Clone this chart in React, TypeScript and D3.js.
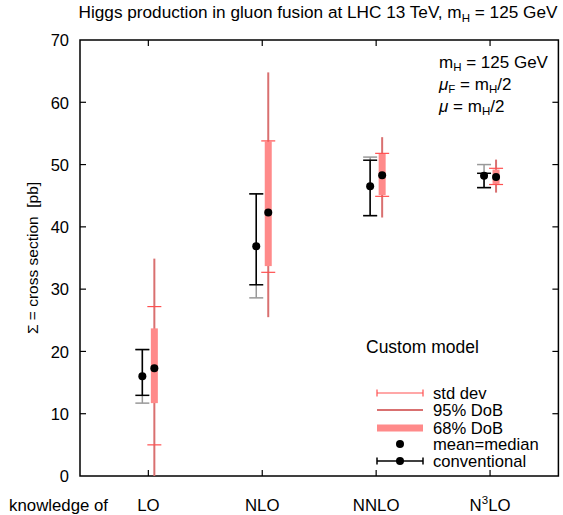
import React from "react";
import * as d3 from "d3";

const categories = ["LO", "NLO", "NNLO", "N3LO"];
// conventional (black) scale-variation error bars
const convMean = [16.0, 36.9, 46.5, 48.2];
const convLow = [12.95, 30.7, 41.8, 46.3];
const convHigh = [20.3, 45.3, 50.7, 48.6];
// gray extension of conventional bars
const grayLow = [11.7, 28.6, 41.8, 46.3];
const grayHigh = [20.3, 45.3, 51.2, 50.0];
// custom model (red)
const modelMean = [17.3, 42.3, 48.3, 48.0];
const sdLow = [5.0, 32.7, 44.9, 46.8];
const sdHigh = [27.2, 53.8, 51.8, 49.4];
const dob95Low = [0, 25.5, 41.5, 45.5];
const dob95High = [34.9, 64.8, 54.4, 50.8];
const dob68Low = [11.7, 33.7, 45.1, 46.9];
const dob68High = [23.7, 53.7, 51.8, 49.2];
const yTicks = [0, 10, 20, 30, 40, 50, 60, 70];

const W = 563, H = 515;
const M = { left: 80, right: 558.4, top: 40, bottom: 476 };
const FONT = "'Liberation Sans', Arial, Helvetica, sans-serif";

export default function App() {
  const x = d3.scaleLinear().domain([0.4, 4.6]).range([M.left, M.right]);
  const y = d3.scaleLinear().domain([0, 70]).range([M.bottom, M.top]);
  const cx = (i: number) => x(i + 1);
  const off = 6;
  const cap = 7;
  const tick = 6;
  const RED_SD = "#ff5050";
  const RED_95 = "#d97070";
  const RED_68 = "#ff8a8a";

  const errBar = (xc: number, lo: number, hi: number, color: string, key: string, w = 1.5) => (
    <g key={key} stroke={color} strokeWidth={w}>
      <line x1={xc} x2={xc} y1={y(lo)} y2={y(hi)} />
      <line x1={xc - cap} x2={xc + cap} y1={y(lo)} y2={y(lo)} />
      <line x1={xc - cap} x2={xc + cap} y1={y(hi)} y2={y(hi)} />
    </g>
  );

  const legendX1 = 377, legendX2 = 423, legendTX = 433;
  const legRows = [393, 410, 428, 444, 461];
  const legLabels = ["std dev", "95% DoB", "68% DoB", "mean=median", "conventional"];

  return (
    <svg width={W} height={H} style={{ position: "absolute", left: 0, top: 0 }} fontFamily={FONT}>
      <rect width={W} height={H} fill="#fff" />
      {/* title */}
      <text x={318} y={18} textAnchor="middle" fontSize={17.2}>
        Higgs production in gluon fusion at LHC 13 TeV, m
        <tspan fontSize={11.5} dy={3.5}>H</tspan>
        <tspan dy={-3.5}> = 125 GeV</tspan>
      </text>

      {/* frame */}
      <rect x={M.left} y={M.top} width={M.right - M.left} height={M.bottom - M.top} fill="none" stroke="#000" strokeWidth={1.5} />
      {/* y ticks */}
      {yTicks.map((t) => (
        <g key={"yt" + t}>
          {t > 0 && t < 70 && (
            <>
              <line x1={M.left} x2={M.left + tick} y1={y(t)} y2={y(t)} stroke="#000" strokeWidth={1.2} />
              <line x1={M.right} x2={M.right - tick} y1={y(t)} y2={y(t)} stroke="#000" strokeWidth={1.2} />
            </>
          )}
          <text x={M.left - 11} y={y(t) + 6.3} textAnchor="end" fontSize={16.5}>{t}</text>
        </g>
      ))}
      {/* x ticks */}
      {categories.map((c, i) => (
        <g key={"xt" + c}>
          <line x1={cx(i)} x2={cx(i)} y1={M.bottom} y2={M.bottom - tick} stroke="#000" strokeWidth={1.2} />
          <line x1={cx(i)} x2={cx(i)} y1={M.top} y2={M.top + tick} stroke="#000" strokeWidth={1.2} />
        </g>
      ))}
      {/* category labels */}
      <text x={108} y={511} textAnchor="end" fontSize={16.8}>knowledge of</text>
      {categories.map((c, i) =>
        c === "N3LO" ? (
          <text key={"cl" + c} x={cx(i)} y={511} textAnchor="middle" fontSize={16.8}>
            N<tspan fontSize={11.5} dy={-7}>3</tspan><tspan dy={7}>LO</tspan>
          </text>
        ) : (
          <text key={"cl" + c} x={cx(i)} y={511} textAnchor="middle" fontSize={16.8}>{c}</text>
        )
      )}

      {/* y label */}
      <text transform={`translate(38,${(M.top + M.bottom) / 2}) rotate(-90)`} textAnchor="middle" fontSize={15.5}>
        {"Σ = cross section\u00A0 [pb]"}
      </text>

      {/* data */}
      {categories.map((c, i) => {
        const xb = cx(i) - off;
        const xr = cx(i) + off;
        return (
          <g key={"d" + c}>
            {errBar(xb, grayLow[i], grayHigh[i], "#999", "g" + i)}
            {errBar(xb, convLow[i], convHigh[i], "#000", "b" + i)}
            <circle cx={xb} cy={y(convMean[i])} r={4} fill="#000" />
            <line x1={xr} x2={xr} y1={y(dob95Low[i])} y2={y(dob95High[i])} stroke={RED_95} strokeWidth={2} />
            <rect x={xr - 3.5} width={7} y={y(dob68High[i])} height={y(dob68Low[i]) - y(dob68High[i])} fill={RED_68} />
            <line x1={xr - cap} x2={xr + cap} y1={y(sdLow[i])} y2={y(sdLow[i])} stroke={RED_SD} strokeWidth={1.2} />
            <line x1={xr - cap} x2={xr + cap} y1={y(sdHigh[i])} y2={y(sdHigh[i])} stroke={RED_SD} strokeWidth={1.2} />
            <circle cx={xr} cy={y(modelMean[i])} r={4} fill="#000" />
          </g>
        );
      })}

      {/* info text */}
      <g fontSize={17}>
        <text x={439} y={68}>m<tspan fontSize={11.5} dy={3}>H</tspan><tspan dy={-3}> = 125 GeV</tspan></text>
        <text x={439} y={90}><tspan fontStyle="italic">μ</tspan><tspan fontSize={11.5} dy={3}>F</tspan><tspan dy={-3}> = m</tspan><tspan fontSize={11.5} dy={3}>H</tspan><tspan dy={-3}>/2</tspan></text>
        <text x={439} y={111.5}><tspan fontStyle="italic">μ</tspan> = m<tspan fontSize={11.5} dy={3}>H</tspan><tspan dy={-3}>/2</tspan></text>
      </g>

      {/* legend */}
      <text x={366} y={353} fontSize={17.5}>Custom model</text>
      <g>
        <line x1={legendX1} x2={legendX2} y1={legRows[0]} y2={legRows[0]} stroke={RED_SD} strokeWidth={1.2} />
        <line x1={legendX1} x2={legendX1} y1={legRows[0] - 3.5} y2={legRows[0] + 3.5} stroke={RED_SD} strokeWidth={1.2} />
        <line x1={legendX2} x2={legendX2} y1={legRows[0] - 3.5} y2={legRows[0] + 3.5} stroke={RED_SD} strokeWidth={1.2} />
        <line x1={legendX1} x2={legendX2} y1={legRows[1]} y2={legRows[1]} stroke={RED_95} strokeWidth={2} />
        <line x1={legendX1} x2={legendX2} y1={legRows[2]} y2={legRows[2]} stroke={RED_68} strokeWidth={7} />
        <circle cx={(legendX1 + legendX2) / 2} cy={legRows[3]} r={4} fill="#000" />
        <line x1={legendX1} x2={legendX2} y1={legRows[4]} y2={legRows[4]} stroke="#000" strokeWidth={1.5} />
        <line x1={legendX1} x2={legendX1} y1={legRows[4] - 3.5} y2={legRows[4] + 3.5} stroke="#000" strokeWidth={1.5} />
        <line x1={legendX2} x2={legendX2} y1={legRows[4] - 3.5} y2={legRows[4] + 3.5} stroke="#000" strokeWidth={1.5} />
        <circle cx={(legendX1 + legendX2) / 2} cy={legRows[4]} r={4} fill="#000" />
        {legLabels.map((l, i) => (
          <text key={l} x={legendTX} y={legRows[i] + 6} fontSize={16.6}>{l}</text>
        ))}
      </g>
    </svg>
  );
}
